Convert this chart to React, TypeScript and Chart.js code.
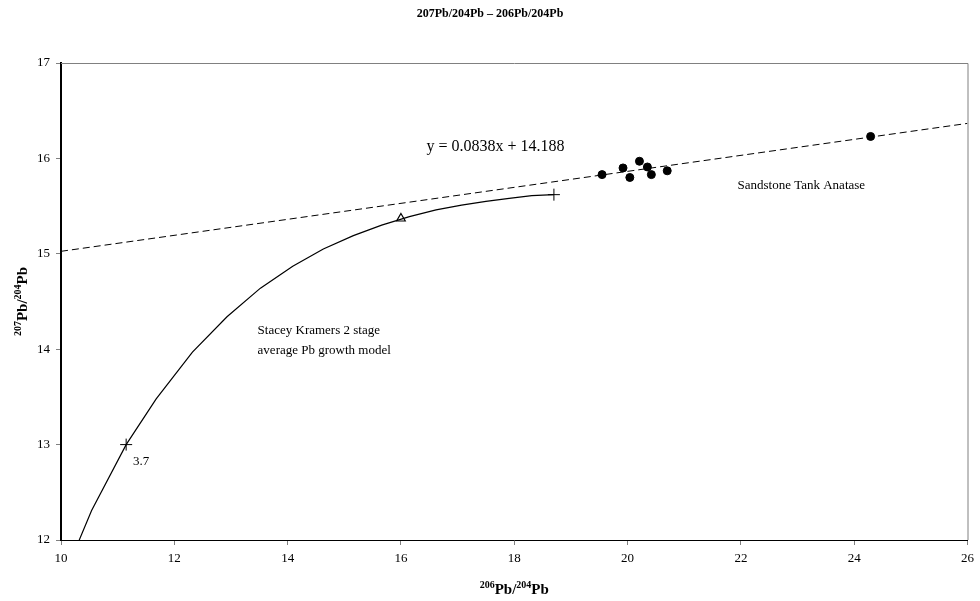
import React, { useEffect, useRef } from "react";
import { Chart, registerables } from "chart.js";

Chart.register(...registerables);

// Stacey & Kramers two-stage growth curve
const curveX = [10.02, 10.54, 11.15, 11.68, 12.32, 12.93, 13.52, 14.09, 14.63, 15.16, 15.66, 16.15, 16.62, 17.07, 17.5, 17.91, 18.31, 18.7];
const curveY = [11.57, 12.31, 13.0, 13.48, 13.97, 14.34, 14.64, 14.87, 15.05, 15.19, 15.3, 15.39, 15.46, 15.51, 15.55, 15.58, 15.61, 15.62];

// Sandstone Tank anatase samples
const sampleX = [19.55, 19.92, 20.04, 20.21, 20.35, 20.42, 20.7, 24.29];
const sampleY = [15.83, 15.9, 15.8, 15.97, 15.91, 15.83, 15.87, 16.23];

// Regression line end points
const fitX = [10, 26];
const fitY = [15.026, 16.367];

// Marker points on the growth curve
const crossX = [11.15, 18.7];
const crossY = [13.0, 15.62];
const triX = [16.0];
const triY = [15.37];

const xTicks = [10, 12, 14, 16, 18, 20, 22, 24, 26];
const yTicks = [12, 13, 14, 15, 16, 17];

const titleText = "207Pb/204Pb – 206Pb/204Pb";
const eqText = "y = 0.0838x + 14.188";

const pts = (xs: number[], ys: number[]) => xs.map((x, i) => ({ x, y: ys[i] }));

const SERIF = "'Liberation Serif', 'Times New Roman', serif";

function drawIsoLabel(ctx: CanvasRenderingContext2D, parts: [string, boolean][], big: number, small: number) {
  let w = 0;
  for (const [t, sup] of parts) {
    ctx.font = `bold ${sup ? small : big}px ${SERIF}`;
    w += ctx.measureText(t).width;
  }
  let x = -w / 2;
  for (const [t, sup] of parts) {
    ctx.font = `bold ${sup ? small : big}px ${SERIF}`;
    ctx.fillText(t, x, sup ? -big * 0.4 : 0);
    x += ctx.measureText(t).width;
  }
}

const overlay = {
  id: "overlay",
  afterDraw(chart: any) {
    const { ctx, chartArea, scales } = chart;
    const xs = scales.x;
    const ys = scales.y;
    ctx.save();
    // gray frame top/right
    ctx.strokeStyle = "#808080";
    ctx.lineWidth = 1;
    ctx.beginPath();
    ctx.moveTo(chartArea.left, chartArea.top + 0.5);
    ctx.lineTo(chartArea.right + 0.5, chartArea.top + 0.5);
    ctx.lineTo(chartArea.right + 0.5, chartArea.bottom);
    ctx.stroke();

    ctx.fillStyle = "#000";
    // title
    ctx.font = `bold 12px ${SERIF}`;
    ctx.textAlign = "center";
    ctx.textBaseline = "middle";
    ctx.fillText(titleText, 490, 14);

    // annotations
    ctx.textAlign = "left";
    ctx.textBaseline = "middle";
    const ann: [string, number, number, number][] = [
      [eqText, 16.45, 16.12, 16],
      ["Sandstone Tank Anatase", 21.94, 15.72, 13],
      ["Stacey Kramers 2 stage", 13.47, 14.19, 13],
      ["average Pb growth model", 13.47, 13.99, 13],
      ["3.7", 11.27, 12.82, 13],
    ];
    for (const [t, x, y, sz] of ann) {
      ctx.font = `${sz}px ${SERIF}`;
      ctx.fillText(t, xs.getPixelForValue(x), ys.getPixelForValue(y));
    }

    // x axis title
    ctx.textAlign = "left";
    ctx.textBaseline = "alphabetic";
    ctx.save();
    ctx.translate((chartArea.left + chartArea.right) / 2, 594);
    drawIsoLabel(ctx, [["206", true], ["Pb/", false], ["204", true], ["Pb", false]], 15, 10);
    ctx.restore();

    // y axis title
    ctx.save();
    ctx.translate(27, (chartArea.top + chartArea.bottom) / 2);
    ctx.rotate(-Math.PI / 2);
    drawIsoLabel(ctx, [["207", true], ["Pb/", false], ["204", true], ["Pb", false]], 15, 10);
    ctx.restore();

    ctx.restore();
  },
};

export default function App() {
  const ref = useRef<HTMLCanvasElement>(null);
  useEffect(() => {
    document.body.style.margin = "0";
    const chart = new Chart(ref.current!, {
      type: "scatter",
      data: {
        datasets: [
          {
            label: "growth",
            data: pts(curveX, curveY),
            showLine: true,
            borderColor: "#000",
            borderWidth: 1.2,
            pointRadius: 0,
            tension: 0,
          },
          {
            label: "fit",
            data: pts(fitX, fitY),
            showLine: true,
            borderColor: "#000",
            borderWidth: 1,
            borderDash: [7, 4],
            pointRadius: 0,
          },
          {
            label: "samples",
            data: pts(sampleX, sampleY),
            pointStyle: "circle",
            pointRadius: 4,
            backgroundColor: "#000",
            borderColor: "#000",
          },
          {
            label: "cross",
            data: pts(crossX, crossY),
            pointStyle: "cross",
            pointRadius: 6,
            borderWidth: 1,
            borderColor: "#000",
          },
          {
            label: "tri",
            data: pts(triX, triY),
            pointStyle: "triangle",
            pointRadius: 5,
            borderWidth: 1.2,
            borderColor: "#000",
            backgroundColor: "#fff",
          },
        ],
      },
      options: {
        responsive: false,
        animation: false,
        layout: { padding: { left: 0, top: 63, right: 11, bottom: 0 } },
        plugins: { legend: { display: false }, tooltip: { enabled: false }, title: { display: false } },
        scales: {
          x: {
            type: "linear",
            min: 10,
            max: 26,
            afterBuildTicks: (s: any) => { s.ticks = xTicks.map((v) => ({ value: v })); },
            afterFit: (s: any) => { s.height = 61; },
            ticks: { color: "#000", font: { family: SERIF, size: 13 }, padding: 6 },
            grid: { drawOnChartArea: false, drawTicks: true, tickLength: 5, color: "#808080" },
            border: { color: "#000", width: 1 },
          },
          y: {
            type: "linear",
            min: 12,
            max: 17,
            afterBuildTicks: (s: any) => { s.ticks = yTicks.map((v) => ({ value: v })); },
            afterFit: (s: any) => { s.width = 61; },
            ticks: { color: "#000", font: { family: SERIF, size: 13 }, padding: 6 },
            grid: { drawOnChartArea: false, drawTicks: true, tickLength: 5, color: "#808080" },
            border: { color: "#000", width: 2 },
          },
        },
      },
      plugins: [overlay],
    } as any);
    return () => chart.destroy();
  }, []);
  return (
    <div style={{ position: "absolute", left: 0, top: 0, width: 980, height: 601, background: "#fff" }}>
      <canvas ref={ref} width={980} height={601} />
    </div>
  );
}
